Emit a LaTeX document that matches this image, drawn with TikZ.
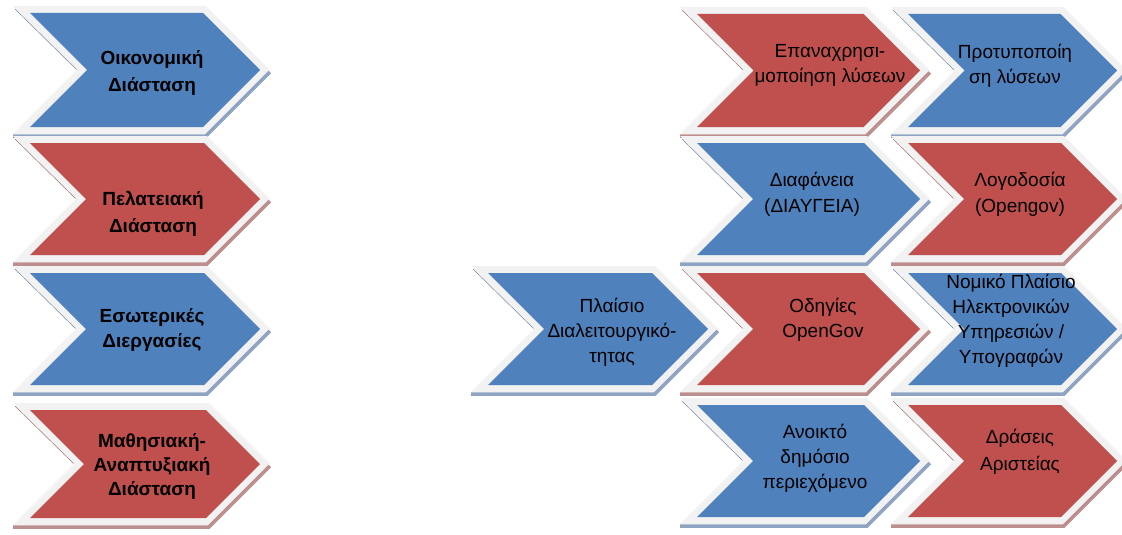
\documentclass[tikz,border=0pt]{standalone}
\usepackage{fontspec}
\setmainfont{Liberation Sans}
\definecolor{cblue}{HTML}{4F81BD}
\definecolor{cred}{HTML}{C0504D}
\definecolor{bandc}{HTML}{F2F2F2}
\definecolor{sblue}{HTML}{8FA3C2}
\definecolor{sred}{HTML}{BC8E8E}
\definecolor{lblue}{HTML}{7286A4}
\definecolor{lred}{HTML}{A07070}
\tikzset{
  bandline/.style={draw=bandc, line width=14pt, line join=miter, miter limit=10},
  striprule/.style={line width=3.5pt, line join=miter, miter limit=10, yshift=-2pt},
  edgeline/.style={line width=0.5pt},
  rtxt/.style={anchor=base, inner sep=0pt, font=\fontsize{19}{25}\selectfont},
  ltxt/.style={anchor=base, inner sep=0pt, font=\fontsize{19}{25}\selectfont\bfseries},
}
% #1 left x, #2 tip x, #3 top y, #4 bottom y, #5 fill colour, #6 strip colour, #7 edge colour
\newcommand\chevron[7]{%
  \pgfmathsetmacro\cmid{(#3+#4)/2}%
  \pgfmathsetmacro\cdep{(#4-#3)/2}%
  \draw[bandline] (#1,#3) -- ({#2-\cdep},#3) -- (#2,\cmid) -- ({#2-\cdep},#4) -- (#1,#4) -- ({#1+\cdep},\cmid) -- cycle;
  \draw[striprule, #6] ({#1-16.9},{#4+7}) -- ({#2-\cdep+2.9},{#4+7}) -- ({#2+9.9},\cmid);
  \fill[#5] (#1,#3) -- ({#2-\cdep},#3) -- (#2,\cmid) -- ({#2-\cdep},#4) -- (#1,#4) -- ({#1+\cdep},\cmid) -- cycle;
  \draw[edgeline, #7] ({#1-15},{#3-4}) -- ({#1+\cdep-10.5},{\cmid-0.5});
}
\newcommand\tlines[2]{\fontsize{19}{#1}\selectfont\begin{tabular}[t]{@{}c@{}}#2\end{tabular}}
\begin{document}
\begin{tikzpicture}[x=1pt, y=-1pt]
\useasboundingbox (0,0) rectangle (1122,535);
\fill[white] (0,0) rectangle (1122,535);
% left column
\chevron{30}{260}{13}{127}{cblue}{sblue}{lblue}
\chevron{30}{260}{143}{255}{cred}{sred}{lred}
\chevron{30}{260}{273}{385}{cblue}{sblue}{lblue}
\chevron{30}{260}{410}{518}{cred}{sred}{lred}
% centre
\chevron{488}{708}{273}{385}{cblue}{sblue}{lblue}
% right columns
\chevron{697}{920}{14}{127}{cred}{sred}{lred}
\chevron{908}{1117}{14}{127}{cblue}{sblue}{lblue}
\chevron{697}{920}{143}{255}{cblue}{sblue}{lblue}
\chevron{908}{1117}{143}{255}{cred}{sred}{lred}
\chevron{697}{920}{273}{385}{cred}{sred}{lred}
\chevron{908}{1117}{273}{385}{cblue}{sblue}{lblue}
\chevron{697}{920}{405}{517}{cblue}{sblue}{lblue}
\chevron{908}{1117}{405}{517}{cred}{sred}{lred}
% texts
\node[ltxt] (oik) at (152,65) {\tlines{27}{Οικονομική\\Διάσταση}};
\node[ltxt] (pel) at (153,205) {\tlines{27}{Πελατειακή\\Διάσταση}};
\node[ltxt] (eso) at (152,322) {\tlines{25}{Εσωτερικές\\Διεργασίες}};
\node[ltxt] (mat) at (152,447) {\tlines{24}{Μαθησιακή-\\Αναπτυξιακή\\Διάσταση}};
\node[rtxt] (pla) at (612,312) {\tlines{25}{Πλαίσιο\\Διαλειτουργικό-\\τητας}};
\node[rtxt] (epa) at (830,58) {\tlines{25}{Επαναχρησι-\\μοποίηση λύσεων}};
\node[rtxt] (pro) at (1015,59) {\tlines{25}{Προτυποποίη\\ση λύσεων}};
\node[rtxt] (dia) at (812,186) {\tlines{26}{Διαφάνεια\\(ΔΙΑΥΓΕΙΑ)}};
\node[rtxt] (log) at (1020,186) {\tlines{26}{Λογοδοσία\\(Opengov)}};
\node[rtxt] (odi) at (823,312) {\tlines{25}{Οδηγίες\\OpenGov}};
\node[rtxt] (nom) at (1011,288) {\tlines{25}{Νομικό Πλαίσιο\\Ηλεκτρονικών\\Υπηρεσιών /\\Υπογραφών}};
\node[rtxt] (ano) at (815,438) {\tlines{25}{Ανοικτό\\δημόσιο\\περιεχόμενο}};
\node[rtxt] (dra) at (1020,443) {\tlines{27}{Δράσεις\\Αριστείας}};
\end{tikzpicture}
\end{document}
